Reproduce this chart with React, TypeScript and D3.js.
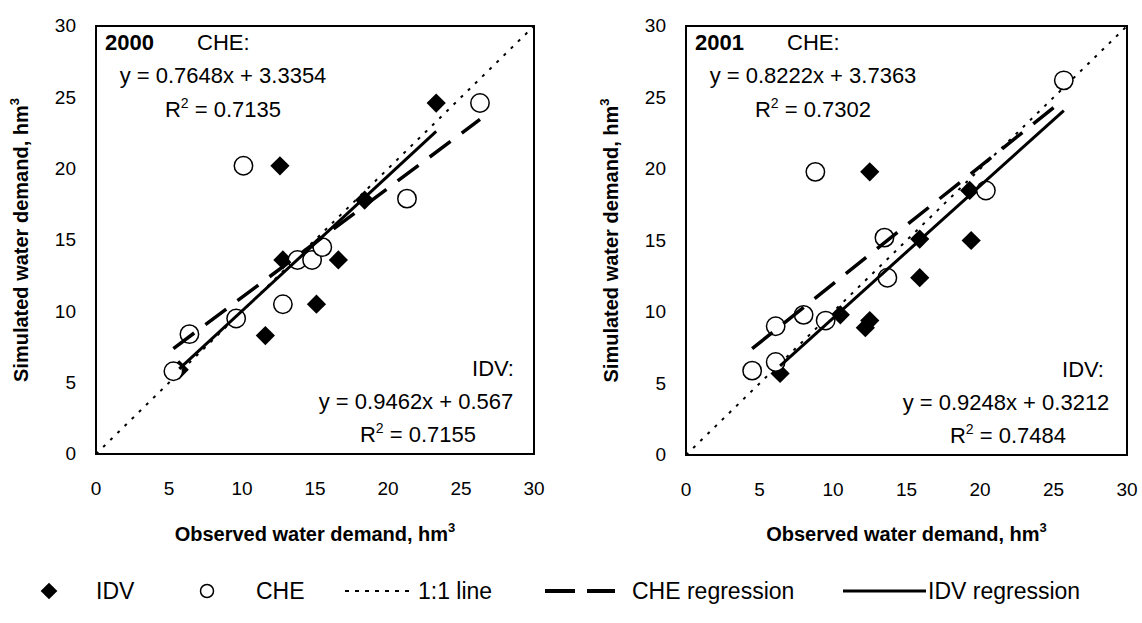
import React from "react";
import * as d3 from "d3";

// observed (x) vs simulated (y) water demand, hm3
const idv2000Obs = [12.6, 23.3, 18.4, 12.8, 15.3, 16.6, 15.1, 11.6, 5.7];
const idv2000Sim = [20.2, 24.6, 17.8, 13.6, 14.6, 13.6, 10.5, 8.3, 5.9];
const che2000Obs = [10.1, 26.3, 21.3, 13.8, 14.8, 15.5, 12.8, 9.6, 6.4, 5.3];
const che2000Sim = [20.2, 24.6, 17.9, 13.6, 13.6, 14.5, 10.5, 9.5, 8.4, 5.8];

const idv2001Obs = [12.5, 25.7, 19.3, 19.4, 15.9, 15.9, 12.2, 12.5, 10.5, 6.4];
const idv2001Sim = [19.8, 26.2, 18.5, 15.0, 15.1, 12.4, 8.9, 9.4, 9.8, 5.7];
const che2001Obs = [8.8, 25.7, 20.4, 13.5, 13.7, 9.5, 8.0, 6.1, 6.1, 4.5];
const che2001Sim = [19.8, 26.2, 18.5, 15.2, 12.4, 9.4, 9.8, 9.0, 6.5, 5.9];

const ticks = [0, 5, 10, 15, 20, 25, 30];
const years = ["2000", "2001"];
const cheSlope = [0.7648, 0.8222];
const cheIntercept = [3.3354, 3.7363];
const cheR2 = ["0.7135", "0.7302"];
const idvSlope = [0.9462, 0.9248];
const idvIntercept = [0.567, 0.3212];
const idvR2 = ["0.7155", "0.7484"];

const font = "Liberation Sans, Arial, sans-serif";

const diamond = d3.symbol(d3.symbolSquare, 185)();

const Panel = ({ i, x0, x1, y0, y1, idvX, idvY, cheX, cheY }: any) => {
  const x = d3.scaleLinear().domain([0, 30]).range([x0, x1]);
  const y = d3.scaleLinear().domain([0, 30]).range([y1, y0]);
  const line = d3.line<number[]>().x((d) => x(d[0])).y((d) => y(d[1]));
  const fit = (xs: number[], a: number, b: number) => {
    const [lo, hi] = d3.extent(xs) as [number, number];
    return line([[lo, a * lo + b], [hi, a * hi + b]]);
  };
  const eq = (a: number, b: number) => `y = ${a}x + ${b}`;
  return (
    <g fontFamily={font} fill="#000">
      <rect x={x0} y={y0} width={x1 - x0} height={y1 - y0} fill="#fff" stroke="#000" strokeWidth={2} />
      {ticks.map((t) => (
        <text key={"y" + t} x={x0 - 20} y={y(t)} dy="0.33em" textAnchor="end" fontSize={19}>{t}</text>
      ))}
      {ticks.map((t) => (
        <text key={"x" + t} x={x(t)} y={y1 + 41} textAnchor="middle" fontSize={19}>{t}</text>
      ))}
      <text x={(x0 + x1) / 2} y={541} textAnchor="middle" fontSize={20} fontWeight="bold">
        Observed water demand, hm<tspan fontSize={13} dy={-9}>3</tspan>
      </text>
      <text transform={`translate(${x0 - 68},${(y0 + y1) / 2}) rotate(-90)`} textAnchor="middle" fontSize={20} fontWeight="bold">
        Simulated water demand, hm<tspan fontSize={13} dy={-9}>3</tspan>
      </text>
      <path d={line([[0, 0], [30, 30]]) as string} fill="none" stroke="#000" strokeWidth={2} strokeDasharray="3 7" />
      {idvX.map((v: number, k: number) => (
        <path key={"d" + k} d={diamond as string} transform={`translate(${x(v)},${y(idvY[k])}) rotate(45)`} fill="#000" />
      ))}
      {cheX.map((v: number, k: number) => (
        <circle key={"c" + k} cx={x(v)} cy={y(cheY[k])} r={9.2} fill="#fff" stroke="#000" strokeWidth={1.5} />
      ))}
      <path d={fit(cheX, cheSlope[i], cheIntercept[i]) as string} fill="none" stroke="#000" strokeWidth={3.5} strokeDasharray="26 14" />
      <path d={fit(idvX, idvSlope[i], idvIntercept[i]) as string} fill="none" stroke="#000" strokeWidth={3} />
      <text x={x0 + 9} y={y0 + 24} fontSize={22} fontWeight="bold">{years[i]}</text>
      <text x={x0 + 101} y={y0 + 24} fontSize={22}>CHE:</text>
      <text x={x0 + 127} y={y0 + 57} textAnchor="middle" fontSize={22}>{eq(cheSlope[i], cheIntercept[i])}</text>
      <text x={x0 + 127} y={y0 + 91} textAnchor="middle" fontSize={22}>
        R<tspan fontSize={14} dy={-9}>2</tspan><tspan dy={9}> = {cheR2[i]}</tspan>
      </text>
      <text x={x0 + 418} y={y1 - 78} textAnchor="end" fontSize={22}>IDV:</text>
      <text x={x0 + 320} y={y1 - 45} textAnchor="middle" fontSize={22}>{eq(idvSlope[i], idvIntercept[i])}</text>
      <text x={x0 + 322} y={y1 - 12} textAnchor="middle" fontSize={22}>
        R<tspan fontSize={14} dy={-9}>2</tspan><tspan dy={9}> = {idvR2[i]}</tspan>
      </text>
    </g>
  );
};

const Legend = () => {
  const ly = 591;
  return (
    <g fontFamily={font} fontSize={23} fill="#000">
      <path d={d3.symbol(d3.symbolSquare, 140)() as string} transform={`translate(49,${ly}) rotate(45)`} />
      <text x={96} y={ly} dy="0.35em">IDV</text>
      <circle cx={207} cy={ly} r={6.5} fill="#fff" stroke="#000" strokeWidth={1.5} />
      <text x={256} y={ly} dy="0.35em">CHE</text>
      <line x1={345} x2={413} y1={ly} y2={ly} stroke="#000" strokeWidth={2} strokeDasharray="4 6" />
      <text x={418} y={ly} dy="0.35em">1:1 line</text>
      <line x1={545} x2={615} y1={ly} y2={ly} stroke="#000" strokeWidth={4} strokeDasharray="30 12" />
      <text x={632} y={ly} dy="0.35em">CHE regression</text>
      <line x1={843} x2={926} y1={ly} y2={ly} stroke="#000" strokeWidth={3} />
      <text x={928} y={ly} dy="0.35em">IDV regression</text>
    </g>
  );
};

export default function App() {
  return (
    <svg width={1142} height={623} style={{ position: "absolute", left: 0, top: 0, background: "#fff" }}>
      <rect width={1142} height={623} fill="#fff" />
      <Panel i={0} x0={96} x1={534} y0={26} y1={454} idvX={idv2000Obs} idvY={idv2000Sim} cheX={che2000Obs} cheY={che2000Sim} />
      <Panel i={1} x0={686} x1={1127} y0={26} y1={455} idvX={idv2001Obs} idvY={idv2001Sim} cheX={che2001Obs} cheY={che2001Sim} />
      <Legend />
    </svg>
  );
}
